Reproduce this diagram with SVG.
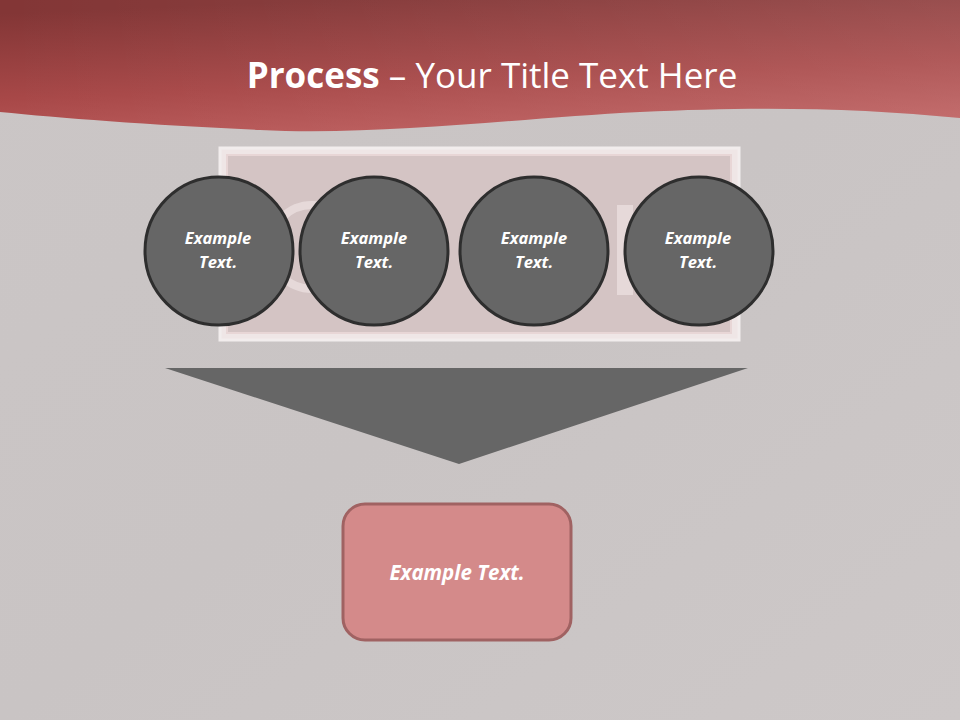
<svg xmlns="http://www.w3.org/2000/svg" width="960" height="720" viewBox="0 0 960 720">
<defs>
<linearGradient id="bg" x1="0" y1="0" x2="1" y2="1">
<stop offset="0" stop-color="#cbc6c6"/>
<stop offset="0.5" stop-color="#c9c4c4"/>
<stop offset="1" stop-color="#cdc8c8"/>
</linearGradient>
<linearGradient id="hdr" x1="0.35" y1="0" x2="0.65" y2="1">
<stop offset="0" stop-color="#833636"/>
<stop offset="0.6" stop-color="#a84848"/>
<stop offset="1" stop-color="#bc5c5c"/>
</linearGradient>
<linearGradient id="hdr2" x1="0" y1="0" x2="1" y2="0">
<stop offset="0" stop-color="#ffffff" stop-opacity="0"/>
<stop offset="1" stop-color="#ffffff" stop-opacity="0.1"/>
</linearGradient>
<style>
.circ{fill:#666666;stroke:#2e2e2e;stroke-width:3}
.ct{font-family:"Open Sans","Liberation Sans",sans-serif;font-size:16.5px;font-weight:bold;font-style:italic;fill:#ffffff;text-anchor:middle}
</style>
</defs>
<rect width="960" height="720" fill="url(#bg)"/>
<path d="M0,0 H960 V118 C860,108 760,106 640,112 C520,118 380,136 260,130 C150,125 60,118 0,112 Z" fill="url(#hdr)"/>
<path d="M0,0 H960 V118 C860,108 760,106 640,112 C520,118 380,136 260,130 C150,125 60,118 0,112 Z" fill="url(#hdr2)"/>
<text x="492" y="88" font-family="Open Sans,Liberation Sans,sans-serif" font-size="35" fill="#ffffff" text-anchor="middle"><tspan font-weight="bold">Process</tspan> – Your Title Text Here</text>
<g id="frame">
<rect x="220" y="148" width="519" height="192" fill="#efe6e6" stroke="#f2eded" stroke-width="3"/>
<rect x="227" y="155" width="504" height="178" fill="#d4c4c4" stroke="#e8d6d6" stroke-width="2"/>
<circle cx="312" cy="247" r="42" fill="none" stroke="#eadede" stroke-width="8" opacity="0.8"/>
<rect x="617" y="205" width="16" height="90" fill="#eadede" opacity="0.8"/>
</g>
<g id="connectors">
<polygon id="funnel" points="165,368 748,368 459,464" fill="#666666"/>
</g>
<g id="node1"><circle class="circ" cx="219" cy="251" r="74"/><text class="ct" x="218" y="244">Example</text><text class="ct" x="218" y="268">Text.</text></g>
<g id="node2"><circle class="circ" cx="374" cy="251" r="74"/><text class="ct" x="374" y="244">Example</text><text class="ct" x="374" y="268">Text.</text></g>
<g id="node3"><circle class="circ" cx="534" cy="251" r="74"/><text class="ct" x="534" y="244">Example</text><text class="ct" x="534" y="268">Text.</text></g>
<g id="node4"><circle class="circ" cx="699" cy="251" r="74"/><text class="ct" x="698" y="244">Example</text><text class="ct" x="698" y="268">Text.</text></g>
<g id="result"><rect x="343" y="504" width="228" height="136" rx="22" fill="#d48a8a" stroke="#a06262" stroke-width="3"/><text x="457" y="580" font-family="Open Sans,Liberation Sans,sans-serif" font-size="20.5" font-weight="bold" font-style="italic" fill="#ffffff" text-anchor="middle">Example Text.</text></g>
</svg>
